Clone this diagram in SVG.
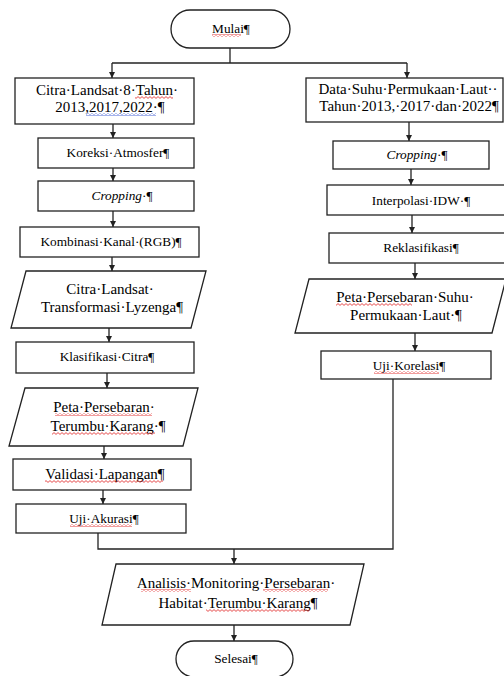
<svg xmlns="http://www.w3.org/2000/svg" width="504" height="676" viewBox="0 0 504 676">
<defs>
<style>
.n{fill:#fff;stroke:#222;stroke-width:1.3}
.c{fill:none;stroke:#222;stroke-width:1.3}
.t{fill:#000;text-anchor:middle;font-family:"Liberation Serif","Times New Roman",serif}
.l{font-size:15px}
.s{font-size:13.3px}
.i{font-style:italic}
.w{fill:url(#wv)}
.wb{fill:url(#wvb)}
</style>
<marker id="ah" viewBox="0 0 10 10" refX="10" refY="5" markerWidth="6" markerHeight="7" markerUnits="userSpaceOnUse" orient="auto">
<path d="M0,0L10,5L0,10z" fill="#222"/>
</marker>
<pattern id="wv" width="4" height="3" patternUnits="userSpaceOnUse">
<path d="M0,2.4L2,0.6L4,2.4" fill="none" stroke="#e02020" stroke-width="0.8"/>
</pattern>
<pattern id="wvb" width="4" height="3" patternUnits="userSpaceOnUse">
<path d="M0,2.4L2,0.6L4,2.4" fill="none" stroke="#3050d0" stroke-width="0.8"/>
</pattern>
</defs>
<rect width="504" height="676" fill="#fff"/>
<g id="connectors">
<path class="c" d="M230,48V63"/>
<path class="c" d="M112,63H407"/>
<path class="c" d="M112,63V78" marker-end="url(#ah)"/>
<path class="c" d="M407,63V78" marker-end="url(#ah)"/>
<path class="c" d="M113,124V138" marker-end="url(#ah)"/>
<path class="c" d="M113,168V181" marker-end="url(#ah)"/>
<path class="c" d="M113,211V227" marker-end="url(#ah)"/>
<path class="c" d="M112,257V271" marker-end="url(#ah)"/>
<path class="c" d="M109,328V342" marker-end="url(#ah)"/>
<path class="c" d="M107,373V388" marker-end="url(#ah)"/>
<path class="c" d="M104,446V459" marker-end="url(#ah)"/>
<path class="c" d="M103,490V504" marker-end="url(#ah)"/>
<path class="c" d="M409,122V141" marker-end="url(#ah)"/>
<path class="c" d="M411,169V185" marker-end="url(#ah)"/>
<path class="c" d="M412,215V233" marker-end="url(#ah)"/>
<path class="c" d="M415,263V279" marker-end="url(#ah)"/>
<path class="c" d="M415,333V351" marker-end="url(#ah)"/>
<path class="c" d="M98,533V549H393V379"/>
<path class="c" d="M234,549V564" marker-end="url(#ah)"/>
<path class="c" d="M234,625V641" marker-end="url(#ah)"/>
</g>
<g id="mulai"><rect class="n" x="171" y="10" width="119" height="38" rx="19"/><text class="t s" x="231" y="33">Mulai¶</text><rect class="w" x="212" y="34" width="29" height="3"/></g>
<g id="citra"><rect class="n" x="15" y="78" width="179" height="46"/><text class="t l" x="107" y="95">Citra·Landsat·8·Tahun·</text><text class="t l" x="110" y="112">2013,2017,2022·¶</text><rect class="w" x="135" y="96" width="38" height="3"/><rect class="wb" x="86" y="113" width="70" height="3"/></g>
<g id="koreksi"><rect class="n" x="38" y="138" width="156" height="30"/><text class="t s" x="118" y="157">Koreksi·Atmosfer¶</text></g>
<g id="cropL"><rect class="n" x="38" y="181" width="156" height="30"/><text class="t s" x="122" y="200"><tspan class="i">Cropping</tspan>·¶</text></g>
<g id="kombinasi"><rect class="n" x="20" y="227" width="179" height="30"/><text class="t s" x="111" y="246">Kombinasi·Kanal·(RGB)¶</text></g>
<g id="lyzenga"><polygon class="n" points="26,271 206,271 191,328 11,328"/><text class="t l" x="110" y="294">Citra·Landsat·</text><text class="t l" x="112" y="312">Transformasi·Lyzenga¶</text></g>
<g id="klasifikasi"><rect class="n" x="16" y="342" width="178" height="31"/><text class="t s" x="107" y="361">Klasifikasi·Citra¶</text></g>
<g id="petaTK"><polygon class="n" points="25,388 198,388 183,446 9,446"/><text class="t l" x="104" y="412">Peta·Persebaran·</text><text class="t l" x="108" y="431">Terumbu·Karang·¶</text><rect class="w" x="55" y="413" width="97" height="3"/><rect class="w" x="52" y="432" width="103" height="3"/></g>
<g id="validasi"><rect class="n" x="13" y="459" width="178" height="31"/><text class="t l" x="105" y="479">Validasi·Lapangan¶</text><rect class="w" x="45" y="480" width="118" height="3"/></g>
<g id="akurasi"><rect class="n" x="16" y="504" width="170" height="29"/><text class="t s" x="104" y="523">Uji·Akurasi¶</text><rect class="w" x="70" y="524" width="62" height="3"/></g>
<g id="dataSPL"><rect class="n" x="306" y="78" width="197" height="44"/><text class="t l" x="408" y="94">Data·Suhu·Permukaan·Laut··</text><text class="t l" x="409" y="111">Tahun·2013,·2017·dan·2022¶</text></g>
<g id="cropR"><rect class="n" x="333" y="141" width="156" height="28"/><text class="t s" x="417" y="159"><tspan class="i">Cropping</tspan>·¶</text></g>
<g id="idw"><rect class="n" x="327" y="185" width="180" height="30"/><text class="t s" x="421" y="205">Interpolasi·IDW·¶</text></g>
<g id="reklas"><rect class="n" x="329" y="233" width="180" height="30"/><text class="t s" x="421" y="252">Reklasifikasi¶</text></g>
<g id="petaSPL"><polygon class="n" points="309,279 506,279 492,333 295,333"/><text class="t l" x="405" y="302">Peta·Persebaran·Suhu·</text><text class="t l" x="406" y="320">Permukaan·Laut·¶</text><rect class="w" x="336" y="303" width="76" height="3"/></g>
<g id="korelasi"><rect class="n" x="321" y="351" width="170" height="28"/><text class="t s" x="409" y="370">Uji·Korelasi¶</text><rect class="w" x="374" y="371" width="65" height="3"/></g>
<g id="analisis"><polygon class="n" points="116,564 364,564 350,625 102,625"/><text class="t l" x="236" y="588">Analisis·Monitoring·Persebaran·</text><text class="t l" x="238" y="608">Habitat·Terumbu·Karang¶</text><rect class="w" x="141" y="589" width="50" height="3"/><rect class="w" x="263" y="589" width="65" height="3"/><rect class="w" x="206" y="609" width="104" height="3"/></g>
<g id="selesai"><rect class="n" x="176" y="641" width="117" height="36" rx="18"/><text class="t s" x="236" y="663">Selesai¶</text></g>
</svg>
